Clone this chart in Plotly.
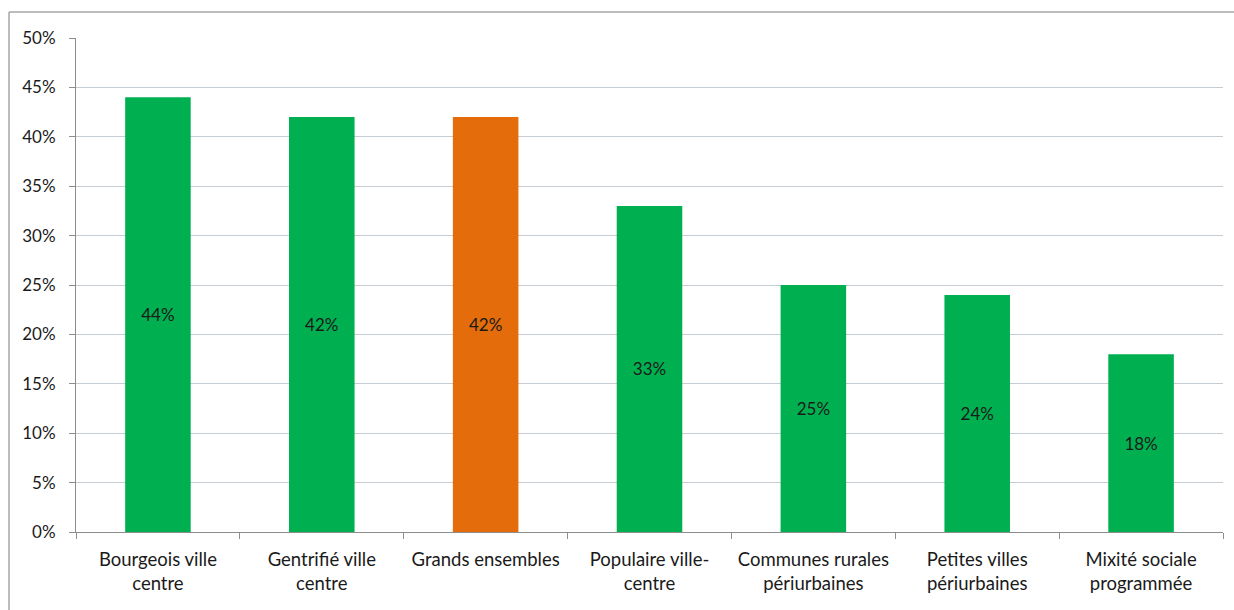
import plotly.graph_objects as go

categories = [
    "Bourgeois ville<br>centre",
    "Gentrifié ville<br>centre",
    "Grands ensembles",
    "Populaire ville-<br>centre",
    "Communes rurales<br>périurbaines",
    "Petites villes<br>périurbaines",
    "Mixité sociale<br>programmée",
]
values = [44, 42, 42, 33, 25, 24, 18]
bar_colors = ["#00B050", "#00B050", "#E46C0A", "#00B050", "#00B050", "#00B050", "#00B050"]
y_ticks = [0, 5, 10, 15, 20, 25, 30, 35, 40, 45, 50]

FONT = "Lato, 'Open Sans', sans-serif"
TEXT = "#1a1a1a"
AXIS = "#8c8c8c"

fig = go.Figure(
    go.Bar(
        x=categories,
        y=values,
        marker=dict(color=bar_colors, line=dict(width=0)),
        text=[f"{v}%" for v in values],
        textposition="inside",
        insidetextanchor="middle",
        textangle=0,
        constraintext="none",
        textfont=dict(family=FONT, size=17, color=TEXT),
        hoverinfo="skip",
    )
)

fig.update_layout(
    width=1234,
    height=610,
    margin=dict(l=76, r=11, t=38, b=78),
    paper_bgcolor="white",
    plot_bgcolor="white",
    bargap=0.6,
    showlegend=False,
    font=dict(family=FONT, size=17, color=TEXT),
    shapes=[
        # frame around the chart (top and left edges)
        dict(type="line", xref="paper", yref="paper", x0=-0.0584, x1=1.05,
             y0=1.0526, y1=1.0526, line=dict(color="#a6a6a6", width=1.5)),
        dict(type="line", xref="paper", yref="paper", x0=-0.0584, x1=-0.0584,
             y0=1.0526, y1=-0.3, line=dict(color="#a6a6a6", width=1.5)),
    ],
)

fig.update_xaxes(
    showline=True,
    linecolor=AXIS,
    linewidth=1,
    ticks="outside",
    tickson="boundaries",
    ticklen=6,
    tickcolor=AXIS,
    showgrid=False,
    tickangle=0,
    automargin=False,
    ticklabelstandoff=11,
    tickfont=dict(family=FONT, size=18.5, color=TEXT),
)

fig.update_yaxes(
    range=[0, 50],
    tickvals=y_ticks,
    ticktext=[f"{t}%" for t in y_ticks],
    showline=True,
    linecolor=AXIS,
    linewidth=1,
    ticks="outside",
    ticklen=6,
    tickcolor=AXIS,
    showgrid=True,
    gridcolor="#c5ccd4",
    gridwidth=1,
    zeroline=False,
    automargin=False,
    ticklabelstandoff=10,
    tickfont=dict(family=FONT, size=17, color=TEXT),
)

fig.write_html("out.html")
